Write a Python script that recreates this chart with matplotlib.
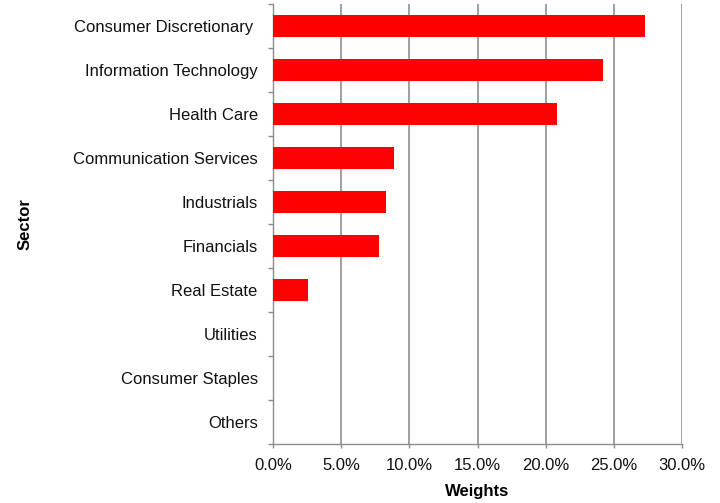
import numpy as np
import matplotlib
matplotlib.use("Agg")
import matplotlib.pyplot as plt
from matplotlib.ticker import FuncFormatter, FixedLocator

plt.rcParams['font.family'] = ['Liberation Sans', 'DejaVu Sans']

sectors = ["Consumer Discretionary ", "Information Technology", "Health Care",
           "Communication Services", "Industrials", "Financials", "Real Estate",
           "Utilities", "Consumer Staples", "Others"]
weights = [27.3, 24.2, 20.8, 8.9, 8.3, 7.8, 2.6, 0.0, 0.0, 0.0]
xticks = [0, 5, 10, 15, 20, 25, 30]

fig = plt.figure(figsize=(7.2, 5.03), dpi=100)
ax = fig.add_axes([0.3792, 0.1173, 0.5681, 0.8747])

y = np.arange(len(sectors))
ax.barh(y, weights, height=0.5, color="#ff0000", zorder=3)

ax.set_xlim(0, 30)
ax.set_ylim(len(sectors) - 0.5, -0.5)
ax.set_xticks(xticks)
ax.xaxis.set_major_formatter(FuncFormatter(lambda v, p: "%.1f%%" % v))
ax.set_yticks(y)
ax.set_yticklabels(sectors)
ax.yaxis.set_minor_locator(FixedLocator(np.arange(-0.5, len(sectors), 1.0)))

gray = "#8c8c8c"
ax.grid(axis="x", color="#999999", linewidth=1.3, zorder=0)
ax.set_axisbelow(True)
for s in ["top", "right"]:
    ax.spines[s].set_visible(False)
for s in ["left", "bottom"]:
    ax.spines[s].set_color(gray)
    ax.spines[s].set_linewidth(1.0)

ax.tick_params(axis="y", which="major", length=0, pad=11, labelsize=12, labelcolor="#111111")
ax.tick_params(axis="y", which="minor", length=3.6, color=gray, width=1.0)
ax.tick_params(axis="x", which="major", length=3, color=gray, width=1.0, pad=7,
               labelsize=12, labelcolor="#111111")

ax.set_xlabel("Weights", fontsize=12, fontweight="bold", labelpad=8)
fig.text(0.035, 0.555, "Sector", rotation=90, fontsize=12, fontweight="bold",
         ha="center", va="center")

fig.savefig("out.png", dpi=100)
